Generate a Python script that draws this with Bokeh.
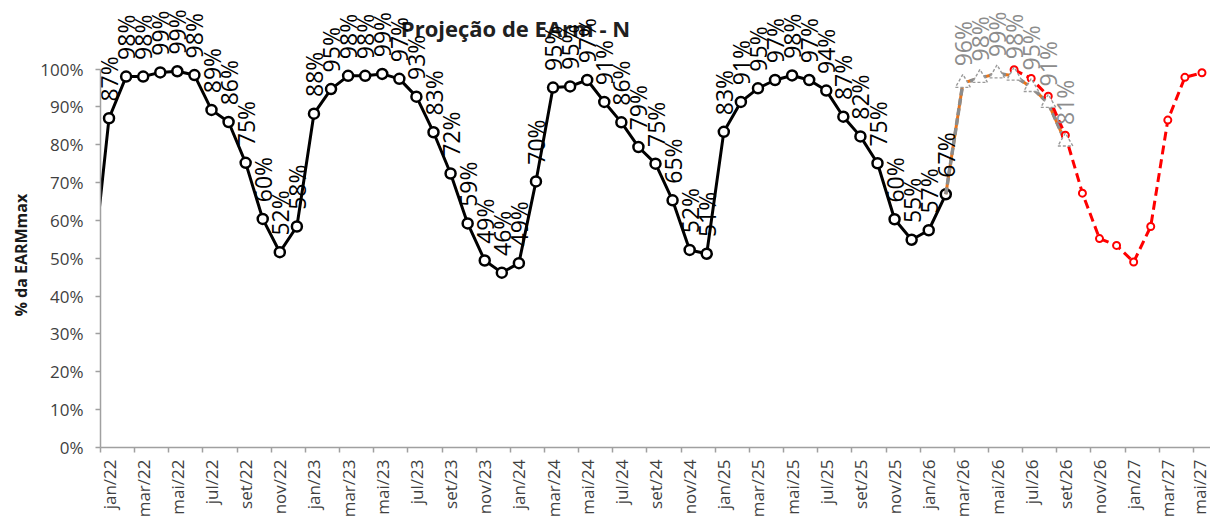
import math
from bokeh.plotting import figure
from bokeh.models import Range1d, FixedTicker, PrintfTickFormatter, Label
from bokeh.embed import file_html
from bokeh.resources import INLINE
from bokeh.core.properties import value

# ---------------- data ----------------
MONTH_NAMES = ["jan", "fev", "mar", "abr", "mai", "jun", "jul", "ago", "set", "out", "nov", "dez"]
# categories from dez/21 (partly off-axis) to mai/27
MONTHS = ["dez/21"] + [f"{m}/{y}" for y in range(22, 28) for m in MONTH_NAMES][:65]

# historical EARM (% of EARMmax), dez/21 .. fev/26
HIST_VALUES = [
    45.0,
    87.0, 98.0, 98.0, 99.1, 99.4, 98.4, 89.2, 86.0, 75.2, 60.4, 51.6, 58.4,
    88.2, 94.7, 98.2, 98.2, 98.7, 97.4, 92.7, 83.3, 72.4, 59.2, 49.4, 46.2,
    48.7, 70.3, 95.1, 95.4, 97.1, 91.3, 85.9, 79.4, 75.0, 65.3, 52.2, 51.2,
    83.4, 91.3, 94.9, 97.1, 98.3, 97.1, 94.3, 87.4, 82.2, 75.1, 60.3, 54.9,
    57.4, 66.9,
]
HIST_MONTHS = MONTHS[0:51]

# projection (gray triangles) fev/26 .. set/26
PROJ_MONTHS = MONTHS[50:58]
PROJ_VALUES = [66.9, 96.3, 97.6, 98.8, 98.2, 95.2, 91.0, 80.8]
# orange scenario (under the gray one)
ORANGE_VALUES = [66.9, 96.3, 97.6, 98.8, 98.2, 95.2, 91.0, 80.8]

# red scenario jun/26 .. mai/27
RED_MONTHS = MONTHS[54:66]
RED_VALUES = [99.8, 97.5, 92.8, 82.5, 67.2, 55.2, 53.4, 49.0, 58.4, 86.5, 97.8, 99.0]

Y_TICKS = [0, 10, 20, 30, 40, 50, 60, 70, 80, 90, 100]

TITLE = "Projeção de EArm - N"
Y_TITLE = "% da EARMmax"

# ---------------- helpers ----------------
POS = {m: i - 1 for i, m in enumerate(MONTHS)}  # jan/22 -> 0


def xs(months):
    return [POS[m] for m in months]


def pct(v):
    return f"{int(v + 0.5)}%"


FONT = "Open Sans"
LABEL_GAP = 4.4  # data units between a point and its label

p = figure(
    width=1210, height=520,
    x_range=Range1d(-0.5, 64.5), y_range=Range1d(0, 118.1),
    output_backend="svg", toolbar_location=None,
    min_border_left=100, min_border_right=0, min_border_top=0, min_border_bottom=70,
)
p.outline_line_color = None
p.xgrid.visible = False
p.ygrid.visible = False
p.background_fill_color = "white"
p.border_fill_color = "white"

AXIS_COLOR = "#A0A0A0"
TICK_TEXT = "#3F3F3F"

# y axis
p.yaxis.ticker = FixedTicker(ticks=Y_TICKS, minor_ticks=[])
p.yaxis.formatter = PrintfTickFormatter(format="%d%%")
p.yaxis.bounds = (Y_TICKS[0], Y_TICKS[-1])
p.yaxis.axis_line_color = AXIS_COLOR
p.yaxis.axis_line_width = 1.5
p.yaxis.major_tick_line_color = AXIS_COLOR
p.yaxis.major_tick_line_width = 1.5
p.yaxis.major_tick_out = 5
p.yaxis.major_tick_in = 0
p.yaxis.minor_tick_line_color = None
p.yaxis.major_label_standoff = 12
p.yaxis.major_label_text_font = FONT
p.yaxis.major_label_text_font_size = "17px"
p.yaxis.major_label_text_color = TICK_TEXT
# axis title: trailing no-break spaces shift its centre down to the middle of 0%..100%
p.yaxis.axis_label = Y_TITLE + "\u00a0" * 15
p.yaxis.axis_label_text_font = FONT
p.yaxis.axis_label_text_font_size = "16px"
p.yaxis.axis_label_text_font_style = "bold"
p.yaxis.axis_label_text_color = "#1A1A1A"
p.yaxis.axis_label_standoff = 5

# x axis: labels at every second category centre, ticks at category boundaries
label_pos = [POS[m] for m in MONTHS[1::2]]
boundary_pos = [POS[m] - 0.5 for m in MONTHS[1::2]]
p.xaxis.ticker = FixedTicker(ticks=label_pos, minor_ticks=boundary_pos)
p.xaxis.major_label_overrides = {POS[m]: m for m in MONTHS[1::2]}
p.xaxis.major_label_orientation = math.pi / 2
p.xaxis.axis_line_color = AXIS_COLOR
p.xaxis.axis_line_width = 1.5
p.xaxis.major_tick_line_color = None
p.xaxis.major_tick_out = 5
p.xaxis.major_tick_in = 0
p.xaxis.minor_tick_line_color = AXIS_COLOR
p.xaxis.minor_tick_line_width = 1.5
p.xaxis.minor_tick_out = 5
p.xaxis.minor_tick_in = 0
p.xaxis.major_label_standoff = 7
p.xaxis.major_label_text_font = FONT
p.xaxis.major_label_text_font_size = "17px"
p.xaxis.major_label_text_color = TICK_TEXT

# title (under the data labels)
p.add_layout(Label(
    x=23.8, y=110.9, text=TITLE, text_align="center", text_baseline="middle",
    text_font=FONT, text_font_size="22px", text_font_style="bold",
    text_color="#202020", level="underlay",
))

# historical
hx = xs(HIST_MONTHS)
p.line(hx, HIST_VALUES, line_color="black", line_width=3)
p.scatter(hx, HIST_VALUES, marker="circle", size=10, fill_color="white",
          line_color="black", line_width=2.5)

# orange + gray projection
px_ = xs(PROJ_MONTHS)
p.line(px_, ORANGE_VALUES, line_color="#EA7419", line_width=3)
p.line(px_, PROJ_VALUES, line_color="#8C8C8C", line_width=3.5, line_dash="7 3")

# red scenario
rx = xs(RED_MONTHS)
p.line(rx, RED_VALUES, line_color="#FF0000", line_width=3, line_dash="9 5")
p.scatter(rx, RED_VALUES, marker="circle", size=7, fill_color="white",
          line_color="#FF0000", line_width=2)

p.scatter(px_[1:], PROJ_VALUES[1:], marker="triangle", size=15, fill_color="white",
          line_color="#9A9A9A", line_width=1.4, line_dash="3 2")

# data labels
p.text(hx[1:], [v + LABEL_GAP for v in HIST_VALUES[1:]], text=[pct(v) for v in HIST_VALUES[1:]],
       angle=math.pi / 2, text_align="left", text_baseline="middle",
       text_font=value(FONT), text_font_size="23px", text_color="black")
p.text(px_[1:], [v + LABEL_GAP for v in PROJ_VALUES[1:]], text=[pct(v) for v in PROJ_VALUES[1:]],
       angle=math.pi / 2, text_align="left", text_baseline="middle",
       text_font=value(FONT), text_font_size="23px", text_color="#8C8C8C")

open("out.html", "w").write(file_html(p, INLINE))
